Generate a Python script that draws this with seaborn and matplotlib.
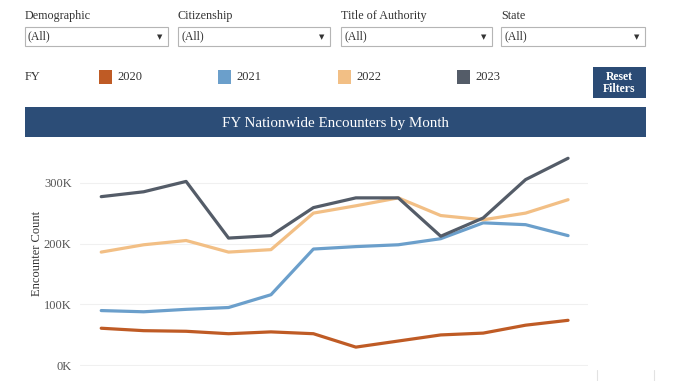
import pandas as pd
import numpy as np
import matplotlib
matplotlib.use("Agg")
import matplotlib.pyplot as plt
import seaborn as sns
from matplotlib.patches import Rectangle
from matplotlib.ticker import FuncFormatter

# ── Data (thousands) ───────────────────────────────────────────
months = ["Oct", "Nov", "Dec", "Jan", "Feb", "Mar",
          "Apr", "May", "Jun", "Jul", "Aug", "Sep"]
fy_2020 = [61, 57, 56, 52, 55, 52, 30, 40, 50, 53, 66, 74]
fy_2021 = [90, 88, 92, 95, 116, 191, 195, 198, 208, 234, 231, 213]
fy_2022 = [186, 198, 205, 186, 190, 250, 262, 275, 246, 239, 250, 272]
fy_2023 = [277, 285, 302, 209, 213, 259, 275, 275, 212, 242, 305, 340]
years = ["2020", "2021", "2022", "2023"]
colors = ["#bf5b25", "#6b9fcb", "#f2bf85", "#545c68"]
filters = ["Demographic", "Citizenship", "Title of Authority", "State"]

df = pd.DataFrame({
    "Month": months * 4,
    "Idx": list(range(12)) * 4,
    "FY": np.repeat(years, 12),
    "Count": np.array(fy_2020 + fy_2021 + fy_2022 + fy_2023) * 1000,
})

sns.set_theme(style="white")
plt.rcParams["font.family"] = ["Liberation Serif", "DejaVu Serif"]

W, H = 678, 381
fig = plt.figure(figsize=(W / 100, H / 100), dpi=100)
fig.patch.set_facecolor("white")


def fx(x):
    return x / W


def fy(y):
    return 1 - y / H


def box(x0, y0, x1, y1, **kw):
    fig.add_artist(Rectangle((fx(x0), fy(y1)), fx(x1 - x0), (y1 - y0) / H,
                             transform=fig.transFigure, **kw))


# ── Filter dropdowns ───────────────────────────────────────────
box_x = [(25, 168), (178, 330), (341, 492), (501, 645)]
for name, (x0, x1) in zip(filters, box_x):
    fig.text(fx(x0), fy(16), name, fontsize=8.7, color="#333333", va="center")
    box(x0, 27, x1, 46, facecolor="white", edgecolor="#b5b5b5", lw=0.8)
    fig.text(fx(x0 + 3), fy(36.5), "(All)", fontsize=8.5, color="#333333", va="center")
    fig.text(fx(x1 - 8), fy(37), "▼", fontsize=5, color="#333333",
             va="center", ha="center", family="DejaVu Sans")

# ── Legend row ─────────────────────────────────────────────────
fig.text(fx(25), fy(77), "FY", fontsize=9, color="#333333", va="center")
leg_x = [99, 218, 338, 457]
for yr, c, x0 in zip(years, colors, leg_x):
    box(x0, 70, x0 + 13, 84, facecolor=c, edgecolor="none")
    fig.text(fx(x0 + 18), fy(77), yr, fontsize=9, color="#333333", va="center")

box(593, 67, 646, 98, facecolor="#2b4b75", edgecolor="none")
fig.text(fx(619.5), fy(82.5), "Reset\nFilters", fontsize=8.5, color="white",
         weight="bold", ha="center", va="center", linespacing=1.0)

# ── Title banner ───────────────────────────────────────────────
box(25, 107, 646, 137, facecolor="#2c4d77", edgecolor="none")
fig.text(fx(335), fy(123), "FY Nationwide Encounters by Month", fontsize=10.8,
         color="white", ha="center", va="center")

# faint lines bottom right
for x in (597, 654):
    fig.add_artist(plt.Line2D([fx(x), fx(x)], [fy(370), fy(381)],
                              color="#e2e2e2", lw=0.8, transform=fig.transFigure))

# ── Chart ──────────────────────────────────────────────────────
ax = fig.add_axes([fx(80), fy(366), fx(588 - 80), (366 - 140) / H])
sns.lineplot(data=df, x="Idx", y="Count", hue="FY", palette=colors,
             linewidth=2.3, ax=ax, legend=False)
ax.set_xlim(-0.5, 11.47)
ax.set_ylim(-1000, 370000)
ax.set_yticks([0, 100000, 200000, 300000])
ax.yaxis.set_major_formatter(FuncFormatter(lambda v, p: f"{int(v / 1000)}K"))
ax.set_xticks([])
ax.set_xlabel("")
ax.set_ylabel("Encounter Count", fontsize=9, color="#333333", labelpad=1)
ax.tick_params(axis="y", labelsize=9, labelcolor="#555555", length=0, pad=6)
ax.grid(axis="y", color="#f0f0f0", lw=0.8)
for s in ax.spines.values():
    s.set_visible(False)

plt.savefig("out.png", dpi=100)
